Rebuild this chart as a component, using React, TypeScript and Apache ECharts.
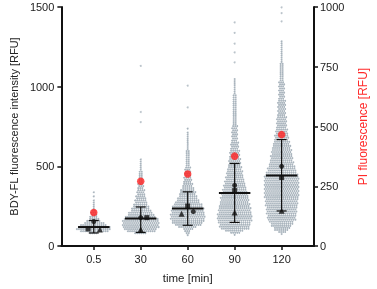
import React, { useEffect, useRef } from "react";
import * as echarts from "echarts";

const categories = ["0.5", "30", "60", "90", "120"];
const medians = [119, 173, 235, 333, 442];
const errLow = [82, 85, 130, 148, 220];
const errHigh = [160, 245, 340, 518, 668];
const circleVals = [154, 178, 216, 381, 500];
const squareVals = [107, 178, 251, 348, 430];
const triangleVals = [103, 103, 202, 210, 222];
const circleOffsets = [0, 0, 0.12, 0, 0];
const squareOffsets = [-0.12, 0.13, 0, 0, 0];
const triangleOffsets = [0.13, 0, -0.13, 0, 0];
const piVals = [140, 271, 301, 376, 466];

// swarm density profile per time point: [BDY-FL value, dots across]
const swarm05 = [[80, 4], [90, 13], [105, 17], [120, 16], [135, 12], [150, 8], [170, 5], [200, 3], [230, 1.5], [260, 1], [300, 0.6], [350, 0.4]];
const swarm30 = [[80, 6], [95, 15], [120, 18], [160, 18], [190, 14], [230, 9], [280, 6], [330, 4], [400, 2.5], [470, 1.5], [520, 1], [565, 0.5]];
const swarm60 = [[68, 0.5], [100, 3], [115, 8], [140, 15], [180, 17], [230, 16], [280, 12], [330, 8], [380, 5], [450, 3], [550, 2], [650, 1], [720, 0.6], [760, 0.3]];
const swarm90 = [[70, 1], [85, 6], [110, 14], [170, 17], [230, 16], [290, 14], [340, 12], [420, 9], [520, 6], [580, 5], [660, 3.5], [760, 2.5], [900, 1.8], [1000, 1.2], [1050, 0.7]];
const swarm120 = [[75, 1], [90, 5], [125, 10], [170, 14], [220, 15], [330, 17], [440, 16.5], [515, 12], [560, 11], [620, 9], [720, 5.7], [860, 4], [970, 3], [1090, 2], [1150, 1.5], [1250, 1], [1300, 0.6]];
const swarmProfiles = [swarm05, swarm30, swarm60, swarm90, swarm120];
const outliers = [[], [778, 841, 1130], [870, 1006], [1153, 1215, 1270, 1338, 1403], [1410, 1462, 1498]];

const DOT = "#a9b4bd";
const FONT = "Liberation Sans";

function countAt(prof: number[][], v: number) {
  for (let k = 0; k < prof.length - 1; k++) {
    const [a, ca] = prof[k];
    const [b, cb] = prof[k + 1];
    if (v >= a && v <= b) return ca + ((v - a) / (b - a)) * (cb - ca);
  }
  return 0;
}

export default function App() {
  const ref = useRef<HTMLDivElement>(null);
  useEffect(() => {
    const chart = echarts.init(ref.current!, null, { renderer: "svg" });
    const outlierData: number[][] = [];
    outliers.forEach((arr, i) => arr.forEach((v) => outlierData.push([i, v])));
    chart.setOption({
      animation: false,
      textStyle: { fontFamily: FONT },
      grid: { left: 48, right: 49, top: 7, bottom: 39 },
      xAxis: {
        type: "value",
        min: -0.69,
        max: 4.69,
        name: "time [min]",
        nameLocation: "middle",
        nameGap: 26,
        nameTextStyle: { fontSize: 11.5, color: "#222", fontFamily: FONT },
        splitLine: { show: false },
        axisLine: { show: true, onZero: false, lineStyle: { color: "#111", width: 2 } },
        axisTick: { show: true, length: 4, customValues: [0, 1, 2, 3, 4], lineStyle: { color: "#111", width: 1.5 } },
        axisLabel: {
          customValues: [0, 1, 2, 3, 4],
          formatter: (v: number) => categories[Math.round(v)],
          fontSize: 11,
          color: "#222",
          margin: 7,
          fontFamily: FONT,
        },
      },
      yAxis: [
        {
          type: "value",
          min: 0,
          max: 1500,
          interval: 500,
          name: "BDY-FL fluorescence intensity [RFU]",
          nameLocation: "middle",
          nameRotate: 90,
          nameGap: 41,
          nameTextStyle: { fontSize: 11, color: "#222", fontFamily: FONT },
          splitLine: { show: false },
          axisLine: { show: true, onZero: false, lineStyle: { color: "#111", width: 2 } },
          axisTick: { show: true, length: 4, lineStyle: { color: "#111", width: 1.5 } },
          axisLabel: { fontSize: 11, color: "#222", margin: 7, fontFamily: FONT, formatter: (v: number) => String(v) },
        },
        {
          type: "value",
          position: "right",
          min: 0,
          max: 1000,
          interval: 250,
          name: "PI fluorescence [RFU]",
          nameLocation: "middle",
          nameRotate: 90,
          nameGap: 43,
          nameTextStyle: { fontSize: 12, color: "#ff2a2a", fontFamily: FONT },
          splitLine: { show: false },
          axisLine: { show: true, onZero: false, lineStyle: { color: "#111", width: 2 } },
          axisTick: { show: true, length: 4, lineStyle: { color: "#111", width: 1.5 } },
          axisLabel: { fontSize: 11, color: "#222", margin: 6, fontFamily: FONT, formatter: (v: number) => String(v) },
        },
      ],
      series: [
        {
          type: "custom",
          silent: true,
          data: categories.map((_, i) => [i, medians[i]]),
          renderItem: (params: any, api: any) => {
            const i = params.dataIndex;
            const prof = swarmProfiles[i];
            const vmin = prof[0][0];
            const vmax = prof[prof.length - 1][0];
            const p0 = api.coord([i, vmin]);
            const p1 = api.coord([i, vmax]);
            const cx = p0[0];
            const step = 2.05;
            const children: any[] = [];
            let row = 0;
            for (let py = p0[1]; py >= p1[1]; py -= step, row++) {
              const v = vmin + ((p0[1] - py) / (p0[1] - p1[1])) * (vmax - vmin);
              const c = countAt(prof, v);
              let n = 0;
              if (c >= 1) n = Math.round(c);
              else if (c > 0 && row % Math.max(1, Math.round(1 / c)) === 0) n = 1;
              const shift = n >= 3 ? (row % 2 ? 0.5 : -0.5) : 0;
              for (let k = 0; k < n; k++) {
                children.push({
                  type: "circle",
                  shape: { cx: cx + (k - (n - 1) / 2) * step + shift, cy: py, r: 0.95 },
                  style: { fill: DOT },
                });
              }
            }
            return { type: "group", children };
          },
          z: 1,
        },
        {
          type: "scatter",
          data: outlierData,
          symbol: "circle",
          symbolSize: 2,
          itemStyle: { color: DOT },
          z: 1,
        },
        {
          type: "custom",
          silent: true,
          data: categories.map((_, i) => [i, medians[i]]),
          renderItem: (params: any, api: any) => {
            const i = params.dataIndex;
            const m0 = api.coord([i - 0.335, medians[i]]);
            const m1 = api.coord([i + 0.335, medians[i]]);
            const lo = api.coord([i, errLow[i]]);
            const hi = api.coord([i, errHigh[i]]);
            const cap = 5;
            const st = { stroke: "#111", lineWidth: 1.2 };
            return {
              type: "group",
              children: [
                { type: "line", shape: { x1: lo[0], y1: lo[1], x2: hi[0], y2: hi[1] }, style: st },
                { type: "line", shape: { x1: lo[0] - cap, y1: lo[1], x2: lo[0] + cap, y2: lo[1] }, style: st },
                { type: "line", shape: { x1: hi[0] - cap, y1: hi[1], x2: hi[0] + cap, y2: hi[1] }, style: st },
                { type: "line", shape: { x1: m0[0], y1: m0[1], x2: m1[0], y2: m1[1] }, style: { stroke: "#111", lineWidth: 2 } },
              ],
            };
          },
          z: 3,
        },
        {
          type: "scatter",
          data: circleVals.map((v, i) => [i + circleOffsets[i], v]),
          symbol: "circle",
          symbolSize: 5,
          itemStyle: { color: "#111" },
          z: 4,
        },
        {
          type: "scatter",
          data: squareVals.map((v, i) => [i + squareOffsets[i], v]),
          symbol: "rect",
          symbolSize: 5,
          itemStyle: { color: "#111" },
          z: 4,
        },
        {
          type: "scatter",
          data: triangleVals.map((v, i) => [i + triangleOffsets[i], v]),
          symbol: "triangle",
          symbolSize: 6,
          itemStyle: { color: "#111" },
          z: 4,
        },
        {
          type: "scatter",
          yAxisIndex: 1,
          data: piVals.map((v, i) => [i, v]),
          symbol: "circle",
          symbolSize: 7.5,
          itemStyle: { color: "#ff2020" },
          z: 5,
        },
      ],
    });
    return () => chart.dispose();
  }, []);
  return <div ref={ref} style={{ position: "fixed", left: 0, top: 0, width: 377, height: 289 }} />;
}
